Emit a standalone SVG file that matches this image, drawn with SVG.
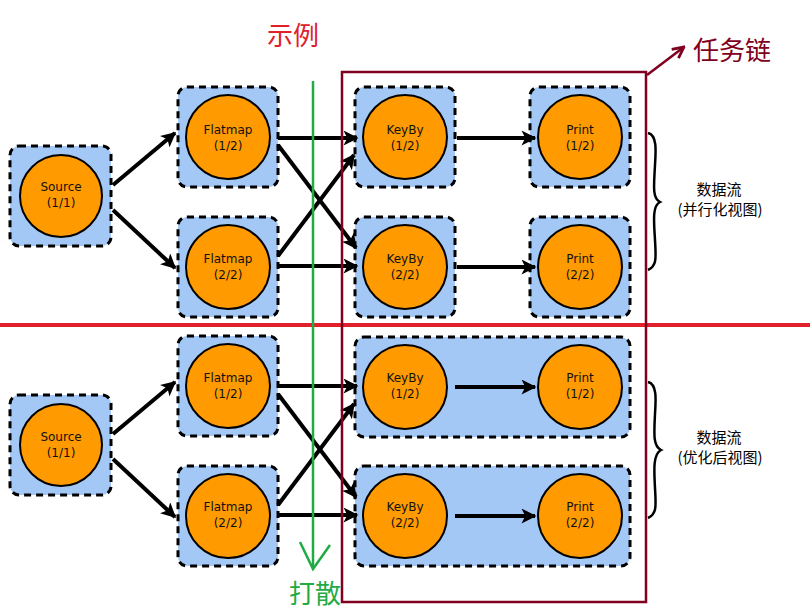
<svg xmlns="http://www.w3.org/2000/svg" width="810" height="613" viewBox="0 0 810 613">
<defs>
<style>
.box{fill:#a4c8f6;stroke:#000;stroke-width:3;stroke-dasharray:7 5}
.nd{fill:#ff9a00;stroke:#000;stroke-width:2}
.lb{font-family:"DejaVu Sans","Noto Sans",sans-serif;font-size:12px;fill:#111;text-anchor:middle}
.cn{fill:none;stroke:#000;stroke-width:4;marker-end:url(#ah)}
.br{fill:none;stroke:#000;stroke-width:2.5}
.note{font-family:"Noto Sans CJK SC","DejaVu Sans",sans-serif;font-size:15px;fill:#000;text-anchor:middle}
.big{font-family:"Noto Sans CJK SC",sans-serif;font-size:26px}
</style>
<marker id="ah" viewBox="0 0 10 10" refX="9" refY="5" markerWidth="16" markerHeight="15" markerUnits="userSpaceOnUse" orient="auto">
<path d="M0,0 L10,5 L0,10 L2.5,5 z" fill="#000"/>
</marker>
<marker id="ahm" viewBox="0 0 10 10" refX="9" refY="5" markerWidth="14" markerHeight="14" markerUnits="userSpaceOnUse" orient="auto">
<path d="M1,1 L9,5 L1,9" fill="none" stroke="#800020" stroke-width="2"/>
</marker>
</defs>
<rect width="810" height="613" fill="#fff"/>

<!-- top section nodes -->
<g id="source-top">
<rect class="box" x="10" y="146" width="101" height="100" rx="9"/>
<circle class="nd" cx="61" cy="196" r="41"/>
<text class="lb" x="61" y="191">Source</text><text class="lb" x="61" y="207">(1/1)</text>
</g>
<g id="flatmap1-top">
<rect class="box" x="178" y="87" width="100" height="100" rx="9"/>
<circle class="nd" cx="228" cy="137" r="42"/>
<text class="lb" x="228" y="134">Flatmap</text><text class="lb" x="228" y="150">(1/2)</text>
</g>
<g id="flatmap2-top">
<rect class="box" x="178" y="217" width="100" height="100" rx="9"/>
<circle class="nd" cx="228" cy="267" r="42"/>
<text class="lb" x="228" y="263">Flatmap</text><text class="lb" x="228" y="279">(2/2)</text>
</g>
<g id="keyby1-top">
<rect class="box" x="355" y="87" width="100" height="100" rx="9"/>
<circle class="nd" cx="405" cy="137" r="42"/>
<text class="lb" x="405" y="134">KeyBy</text><text class="lb" x="405" y="150">(1/2)</text>
</g>
<g id="keyby2-top">
<rect class="box" x="355" y="217" width="100" height="100" rx="9"/>
<circle class="nd" cx="405" cy="267" r="42"/>
<text class="lb" x="405" y="263">KeyBy</text><text class="lb" x="405" y="279">(2/2)</text>
</g>
<g id="print1-top">
<rect class="box" x="530" y="87" width="100" height="100" rx="9"/>
<circle class="nd" cx="580" cy="137" r="42"/>
<text class="lb" x="580" y="134">Print</text><text class="lb" x="580" y="150">(1/2)</text>
</g>
<g id="print2-top">
<rect class="box" x="530" y="217" width="100" height="100" rx="9"/>
<circle class="nd" cx="580" cy="267" r="42"/>
<text class="lb" x="580" y="263">Print</text><text class="lb" x="580" y="279">(2/2)</text>
</g>

<!-- bottom section nodes -->
<g id="source-bottom">
<rect class="box" x="10" y="395" width="101" height="100" rx="9"/>
<circle class="nd" cx="61" cy="445" r="41"/>
<text class="lb" x="61" y="441">Source</text><text class="lb" x="61" y="457">(1/1)</text>
</g>
<g id="flatmap1-bottom">
<rect class="box" x="178" y="336" width="100" height="100" rx="9"/>
<circle class="nd" cx="228" cy="386" r="42"/>
<text class="lb" x="228" y="382">Flatmap</text><text class="lb" x="228" y="398">(1/2)</text>
</g>
<g id="flatmap2-bottom">
<rect class="box" x="178" y="466" width="100" height="100" rx="9"/>
<circle class="nd" cx="228" cy="516" r="42"/>
<text class="lb" x="228" y="511">Flatmap</text><text class="lb" x="228" y="527">(2/2)</text>
</g>
<g id="chain1-bottom">
<rect class="box" x="355" y="337" width="275" height="100" rx="9"/>
<g id="keyby1-bottom">
<circle class="nd" cx="405" cy="387" r="42"/>
<text class="lb" x="405" y="382">KeyBy</text><text class="lb" x="405" y="398">(1/2)</text>
</g>
<g id="print1-bottom">
<circle class="nd" cx="580" cy="387" r="42"/>
<text class="lb" x="580" y="382">Print</text><text class="lb" x="580" y="398">(1/2)</text>
</g>
</g>
<g id="chain2-bottom">
<rect class="box" x="355" y="466" width="275" height="100" rx="9"/>
<g id="keyby2-bottom">
<circle class="nd" cx="405" cy="516" r="42"/>
<text class="lb" x="405" y="511">KeyBy</text><text class="lb" x="405" y="527">(2/2)</text>
</g>
<g id="print2-bottom">
<circle class="nd" cx="580" cy="516" r="42"/>
<text class="lb" x="580" y="511">Print</text><text class="lb" x="580" y="527">(2/2)</text>
</g>
</g>

<!-- connectors -->
<g id="connectors">
<line class="cn" x1="113" y1="185" x2="175" y2="133"/>
<line class="cn" x1="113" y1="210" x2="175" y2="268"/>
<line class="cn" x1="278" y1="138" x2="357" y2="138"/>
<line class="cn" x1="278" y1="145" x2="356" y2="248"/>
<line class="cn" x1="278" y1="256" x2="354" y2="155"/>
<line class="cn" x1="278" y1="266" x2="357" y2="266"/>
<line class="cn" x1="457" y1="138" x2="535" y2="138"/>
<line class="cn" x1="457" y1="267" x2="535" y2="267"/>

<line class="cn" x1="113" y1="434" x2="175" y2="382"/>
<line class="cn" x1="113" y1="459" x2="175" y2="517"/>
<line class="cn" x1="278" y1="386" x2="357" y2="386"/>
<line class="cn" x1="278" y1="394" x2="356" y2="497"/>
<line class="cn" x1="278" y1="505" x2="354" y2="404"/>
<line class="cn" x1="278" y1="515" x2="357" y2="515"/>
<line class="cn" x1="455" y1="387" x2="535" y2="387"/>
<line class="cn" x1="455" y1="516" x2="535" y2="516"/>
</g>

<!-- annotations -->
<line x1="0" y1="325" x2="810" y2="325" stroke="#e0202a" stroke-width="4"/>
<rect x="342" y="72" width="304" height="530" fill="none" stroke="#800020" stroke-width="2.5"/>
<line x1="647" y1="75" x2="684" y2="47" stroke="#800020" stroke-width="2.5" marker-end="url(#ahm)"/>
<text class="big" x="693" y="60" fill="#800020">任务链</text>

<line x1="313" y1="81" x2="313" y2="568" stroke="#22aa44" stroke-width="2.5"/>
<path d="M300,542 L313,569 L330,545" fill="none" stroke="#22aa44" stroke-width="2.5"/>
<text class="big" x="267" y="45" fill="#e0202a">示例</text>
<text class="big" x="289" y="603" fill="#22aa44">打散</text>

<path class="br" d="M648,133 C657,135 656,150 655,165 C654,185 652,198 660,202 C652,206 654,222 655,240 C656,258 657,266 648,270"/>
<path class="br" d="M648,382 C657,384 656,399 655,414 C654,434 653,446 661,450 C653,454 654,470 655,488 C656,506 657,514 648,518"/>
<text class="note" x="719" y="195">数据流</text>
<text class="note" x="720" y="215">(并行化视图)</text>
<text class="note" x="719" y="443">数据流</text>
<text class="note" x="720" y="463">(优化后视图)</text>
</svg>
